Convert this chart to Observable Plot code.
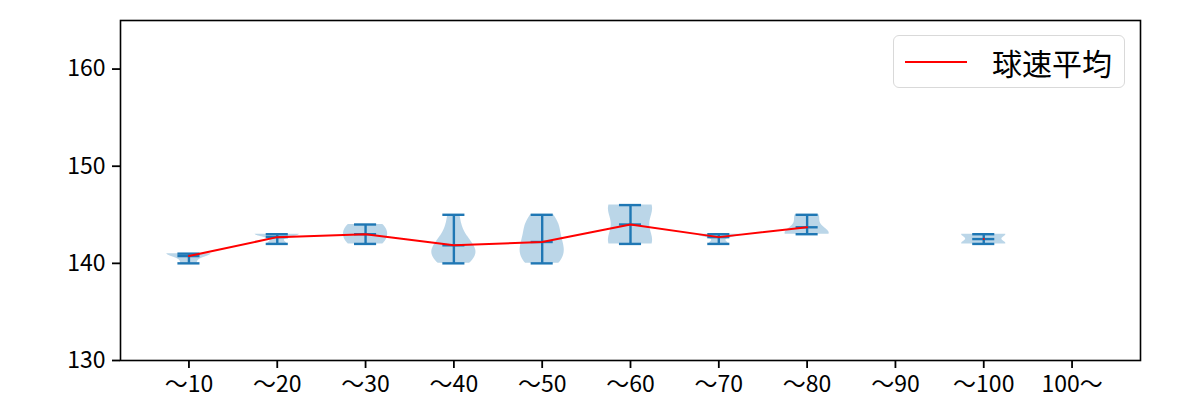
<!DOCTYPE html>
<html><head><meta charset="utf-8">
<script src="https://cdn.jsdelivr.net/npm/d3@7"></script>
<script src="https://cdn.jsdelivr.net/npm/@observablehq/plot@0.6"></script>
<style>
body{margin:0;background:#fff;}
#wrap{position:relative;width:1200px;height:400px;font-family:"Noto Sans CJK JP",sans-serif;}
#legend{position:absolute;left:893px;top:35px;width:232px;height:53px;box-sizing:border-box;border:1.2px solid #d9d9d9;border-radius:6px;background:rgba(255,255,255,0.8);display:flex;align-items:center;padding-left:11px;}
#legend .swatch{width:62px;height:2px;background:red;}
#legend .label{margin-left:25px;font-size:30px;line-height:30px;color:#000;}
</style></head><body><div id="wrap"></div>
<script>
const categories = ["〜10","〜20","〜30","〜40","〜50","〜60","〜70","〜80","〜90","〜100","100〜"];
const speeds10 = [140,141,141,141];
const speeds20 = [142,142,142,143,143,143,143,143,143,143];
const speeds30 = [142,143,144];
const speeds40 = [140,141,141,141,142,143,145];
const speeds50 = [140,140,141,141,142,142,143,144,144,145];
const speeds60 = [142,142,142,144,146,146,146];
const speeds70 = [142,142,142,143,143,143,143,143,143,143];
const speeds80 = [143,143,143,143,144,145,145];
const speeds90 = [];
const speeds100 = [142,142,142,143,143,143];
const speedsOver100 = [];
const speeds = [speeds10,speeds20,speeds30,speeds40,speeds50,speeds60,speeds70,speeds80,speeds90,speeds100,speedsOver100];
const yTicks = [130,140,150,160];
const seriesName = "球速平均";

const blue = "#1f77b4";
function kde(vals){
  const n = vals.length;
  const sd = d3.deviation(vals);
  const bw = sd * Math.pow(n, -0.2);
  const lo = d3.min(vals), hi = d3.max(vals);
  const pts = d3.range(100).map(i => lo + (hi - lo) * i / 99);
  const dens = pts.map(y => d3.sum(vals, v => Math.exp(-0.5 * ((y - v) / bw) ** 2)));
  const m = d3.max(dens);
  return pts.map((y, i) => ({y, w: 0.25 * dens[i] / m}));
}
const stats = speeds.map((v, i) => ({
  pos: i + 1,
  mean: v.length ? d3.mean(v) : undefined,
  min: v.length ? d3.min(v) : undefined,
  max: v.length ? d3.max(v) : undefined
}));
const bodies = speeds.flatMap((v, i) => v.length > 1 ? kde(v).map(d => ({pos: i + 1, y: d.y, x1: i + 1 - d.w, x2: i + 1 + d.w})) : []);
const present = stats.filter(d => d.mean !== undefined);

const chart = Plot.plot({
  width: 1200, height: 400,
  marginTop: 20, marginBottom: 40, marginLeft: 120, marginRight: 60,
  style: {fontFamily: '"Noto Sans CJK JP", sans-serif', fontSize: "23px", color: "black", background: "white"},
  x: {domain: [0.225, 11.775]},
  y: {domain: [130, 165]},
  marks: [
    Plot.areaX(bodies, {y: "y", x1: "x1", x2: "x2", z: "pos", fill: blue, fillOpacity: 0.3, curve: "linear"}),
    Plot.ruleX(present, {x: "pos", y1: "min", y2: "max", stroke: blue, strokeWidth: 2.4}),
    Plot.ruleY(present, {y: "max", x1: d => d.pos - 0.125, x2: d => d.pos + 0.125, stroke: blue, strokeWidth: 2.4}),
    Plot.ruleY(present, {y: "min", x1: d => d.pos - 0.125, x2: d => d.pos + 0.125, stroke: blue, strokeWidth: 2.4}),
    Plot.ruleY(present, {y: "mean", x1: d => d.pos - 0.125, x2: d => d.pos + 0.125, stroke: blue, strokeWidth: 2.4}),
    Plot.line(stats, {x: "pos", y: "mean", stroke: "red", strokeWidth: 2}),
    Plot.axisY({ticks: yTicks, tickSize: 8, tickPadding: 7, strokeWidth: 1.8, fontSize: 23, label: null}),
    Plot.axisX({ticks: d3.range(1, 12), tickFormat: i => categories[i - 1], tickSize: 8, tickPadding: 7, strokeWidth: 1.8, fontSize: 23, label: null}),
    Plot.frame({stroke: "black", strokeWidth: 1.6})
  ]
});
const wrap = document.getElementById("wrap");
wrap.appendChild(chart);
const lg = document.createElement("div");
lg.id = "legend";
lg.innerHTML = '<div class="swatch"></div><div class="label"></div>';
lg.querySelector(".label").textContent = seriesName;
wrap.appendChild(lg);
</script>
</body></html>
